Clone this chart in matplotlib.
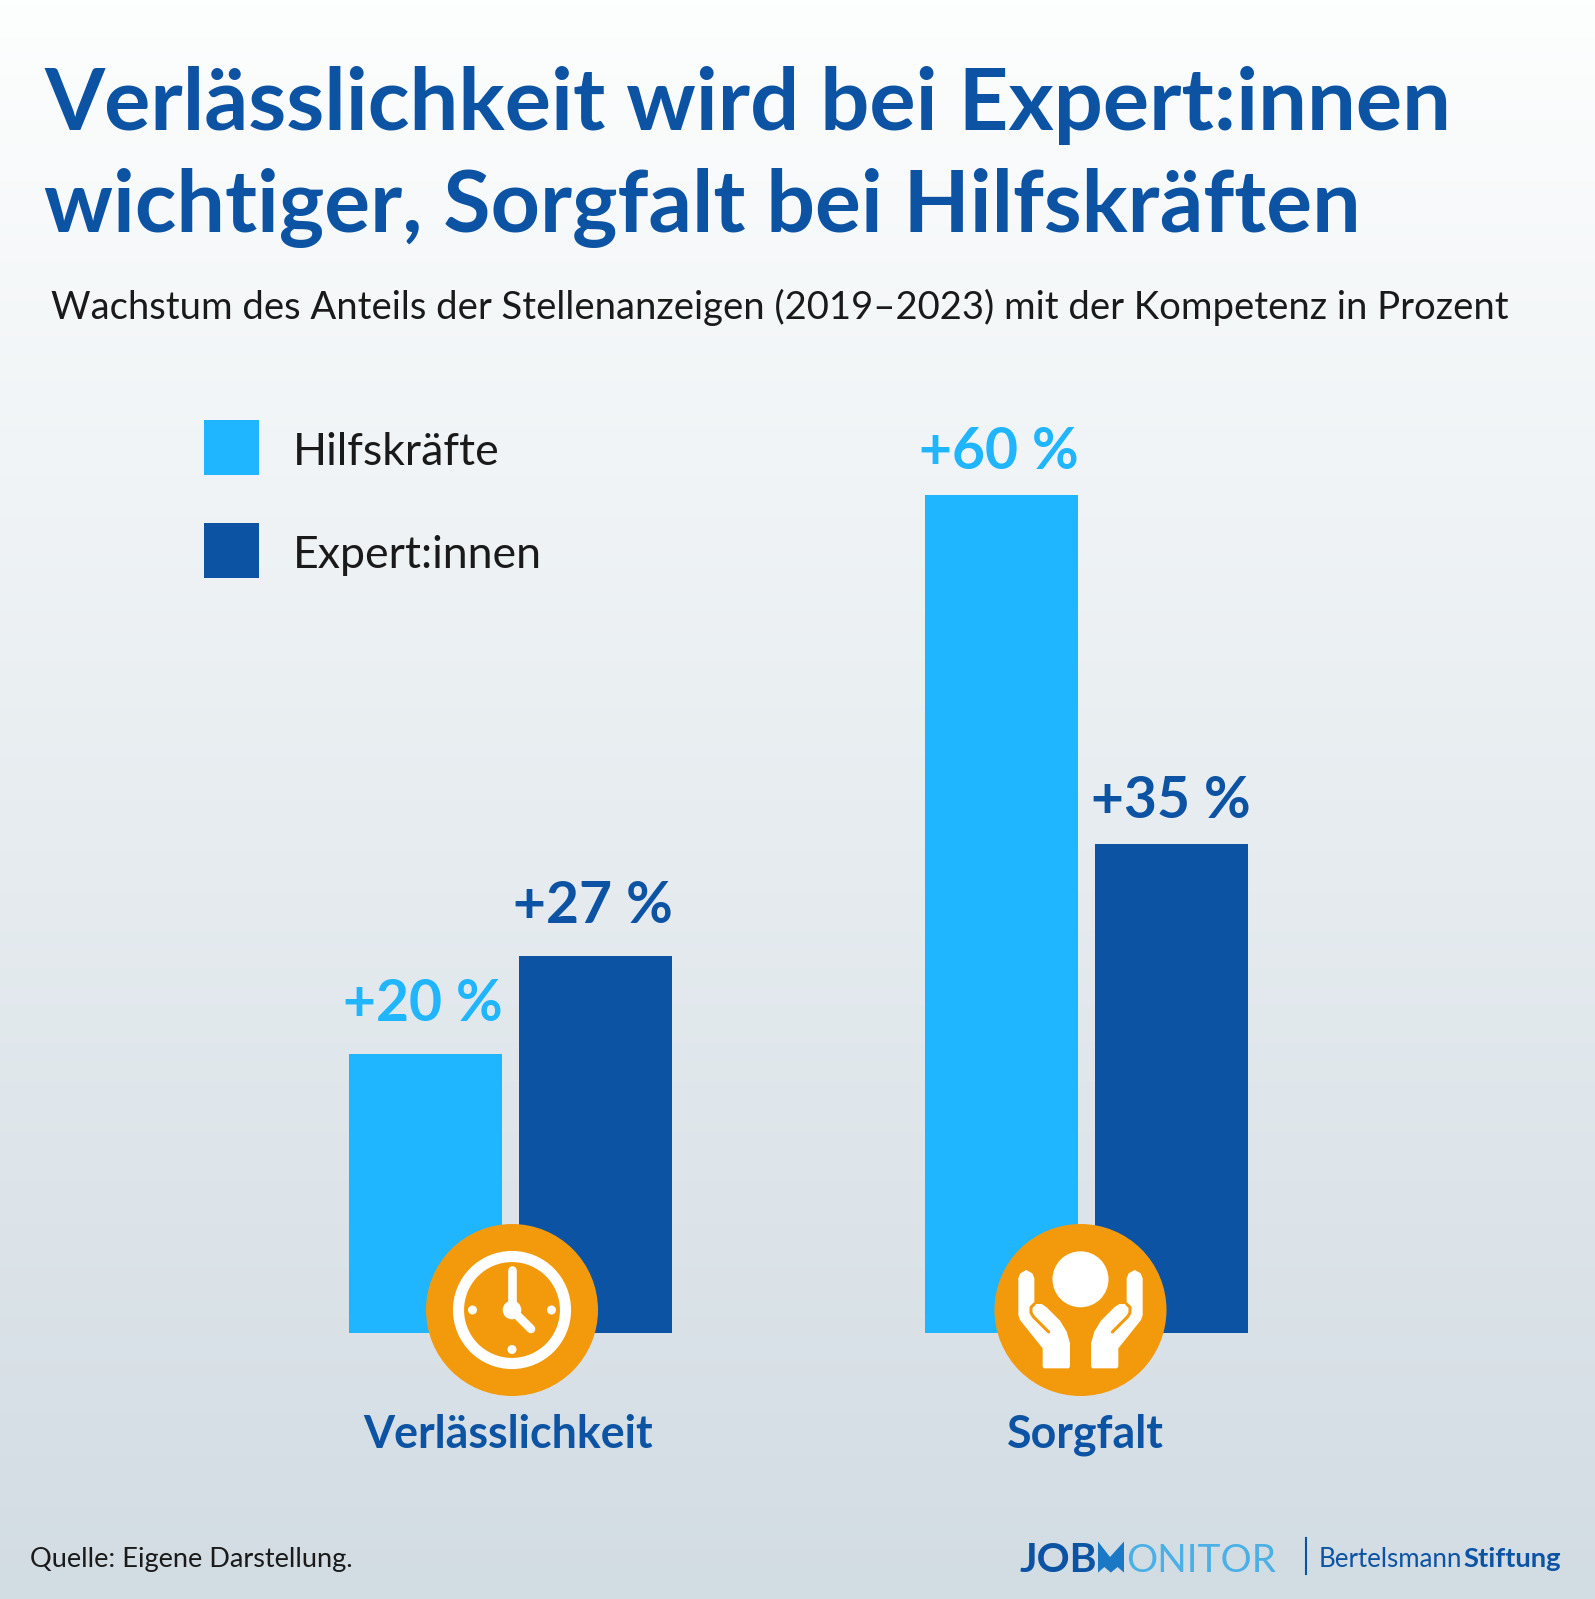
import numpy as np
import matplotlib
matplotlib.use("Agg")
import matplotlib.pyplot as plt
from matplotlib.colors import LinearSegmentedColormap
from matplotlib.patches import Circle, Rectangle, Polygon

plt.rcParams["font.family"] = ["Lato", "DejaVu Sans"]

W, H = 1595, 1599

categories = ["Verlässlichkeit", "Sorgfalt"]
series_names = ["Hilfskräfte", "Expert:innen"]
hilfskraefte = [20, 60]
expertinnen = [27, 35]

title_lines = ["Verlässlichkeit wird bei Expert:innen", "wichtiger, Sorgfalt bei Hilfskräften"]
subtitle = "Wachstum des Anteils der Stellenanzeigen (2019–2023) mit der Kompetenz in Prozent"
source = "Quelle: Eigene Darstellung."

LIGHT = "#1FB5FF"
DARK = "#0C53A4"
ORANGE = "#F29A0B"
LOGO_LIGHT = "#4BB0E6"

fig = plt.figure(figsize=(W / 100, H / 100), dpi=100)


def px_axes(left, top, right, bottom, **kw):
    return fig.add_axes([left / W, 1 - bottom / H, (right - left) / W, (bottom - top) / H], **kw)


# background gradient
bg = px_axes(0, 0, W, H, zorder=0)
cmap = LinearSegmentedColormap.from_list("bg", ["#FDFEFE", "#D2DCE3"])
bg.imshow(np.linspace(0, 1, 256).reshape(-1, 1), aspect="auto", cmap=cmap, extent=[0, 1, 0, 1])
bg.axis("off")

# bars, axis spans outer bar edges and baseline up to the 60 % bar
ax = px_axes(349, 495, 1248, 1333, zorder=1)
ax.patch.set_alpha(0)
bar_w = 153 / 576
step = 170 / 576
x = np.arange(len(categories))
bars_h = ax.bar(x - step / 2, hilfskraefte, bar_w, color=LIGHT)
bars_e = ax.bar(x + step / 2, expertinnen, bar_w, color=DARK)
ax.set_xlim(-step / 2 - bar_w / 2, 1 + step / 2 + bar_w / 2)
ax.set_ylim(0, 60)
ax.axis("off")

# the left group sits a little higher above its bars than the right one
for bars, vals, col, shifts in [(bars_h, hilfskraefte, LIGHT, [0.7, 0.7]), (bars_e, expertinnen, DARK, [0.7, 2])]:
    for b, v, off, dx in zip(bars, vals, [23.5, 19], shifts):
        ax.annotate(f"+{v} %", (b.get_x() + b.get_width(), v), xytext=(dx, off), textcoords="offset points",
                    ha="right", va="baseline", fontsize=41, fontweight="bold", color=col, clip_on=False)

# everything else in pixel coordinates
ov = px_axes(0, 0, W, H, zorder=2)
ov.set_xlim(0, W)
ov.set_ylim(H, 0)
ov.axis("off")

ov.text(44, 130, title_lines[0], fontsize=62.35, fontweight="bold", color=DARK, va="baseline")
ov.text(44, 232, title_lines[1], fontsize=61.9, fontweight="bold", color=DARK, va="baseline")
ov.text(51, 319, subtitle, fontsize=27.5, color="#1A1A1A", va="baseline")
ov.text(30, 1567, source, fontsize=19.5, color="#1A1A1A", va="baseline")

# legend
for name, col, top in zip(series_names, [LIGHT, DARK], [420, 523]):
    ov.add_patch(Rectangle((204, top), 55, 55, fc=col, ec="none"))
    ov.text(292.5, top + 45, name, fontsize=32.1, color="#1A1A1A", va="baseline")

for name, cx in zip(categories, [508, 1085]):
    ov.text(cx, 1448, name, fontsize=32.2, fontweight="bold", color=DARK, ha="center", va="baseline")

# clock icon
cx, cy = 512, 1310
ov.add_patch(Circle((cx, cy), 86, fc=ORANGE, ec="none"))
ov.add_patch(Circle((cx, cy), 53.5, fc="none", ec="white", lw=8))
ov.add_patch(Circle((cx, cy), 9.3, fc="white", ec="none"))
ov.plot([cx, cx], [cy, 1270], color="white", lw=6.2, solid_capstyle="round")
ov.plot([cx, 531], [cy, 1329], color="white", lw=6.2, solid_capstyle="round")
for dx, dy in [(-39.5, 0), (39.5, 0), (0, 39.5)]:
    ov.add_patch(Circle((cx + dx, cy + dy), 4.5, fc="white", ec="none"))

# hands icon
cx = 1080.5
ov.add_patch(Circle((cx, cy), 86, fc=ORANGE, ec="none"))
ov.add_patch(Circle((cx, 1279.3), 28, fc="white", ec="none"))


def zoomed(points, mirror=False):
    p = np.array(points, dtype=float)
    px = 970 + p[:, 0] / 3
    py = 1200 + p[:, 1] / 3
    if mirror:
        px = 2 * cx - px
    return np.column_stack([px, py])


hand = [(145, 235), (151, 220), (169, 210), (187, 220), (193, 235), (193, 312), (200, 312), (215, 312),
        (230, 322), (270, 362), (290, 395), (300, 430), (300, 500), (296, 505), (222, 505), (218, 500),
        (218, 445), (150, 360), (145, 345)]
slit = [(193, 312), (183, 322), (183, 338), (190, 350), (236, 396)]
for m in [False, True]:
    ov.add_patch(Polygon(zoomed(hand, m), closed=True, fc="white", ec="none"))
    s = zoomed(slit, m)
    ov.plot(s[:, 0], s[:, 1], color=ORANGE, lw=2.2, solid_capstyle="round", solid_joinstyle="round")

# logos
ov.text(1020, 1572.5, "JOB", fontsize=29.5, fontweight="bold", color=DARK, va="baseline")
ov.text(1126, 1572.5, "ONITOR", fontsize=28, color=LOGO_LIGHT, va="baseline")
ov.add_patch(Polygon([(1098, 1541.5), (1110, 1557), (1124, 1541.5), (1124, 1572.6), (1117.6, 1567),
                      (1110.8, 1572.6), (1104.4, 1567), (1098, 1572.6)],
                     closed=True, fc="#1B78C4", ec="none"))
ov.plot([1305.5, 1305.5], [1538, 1574], color=DARK, lw=1.5)
ov.text(1319, 1567, "Bertelsmann", fontsize=18.6, color=DARK, va="baseline")
ov.text(1463.5, 1567, "Stiftung", fontsize=19.7, fontweight="bold", color=DARK, va="baseline")

fig.savefig("out.png", dpi=100)
